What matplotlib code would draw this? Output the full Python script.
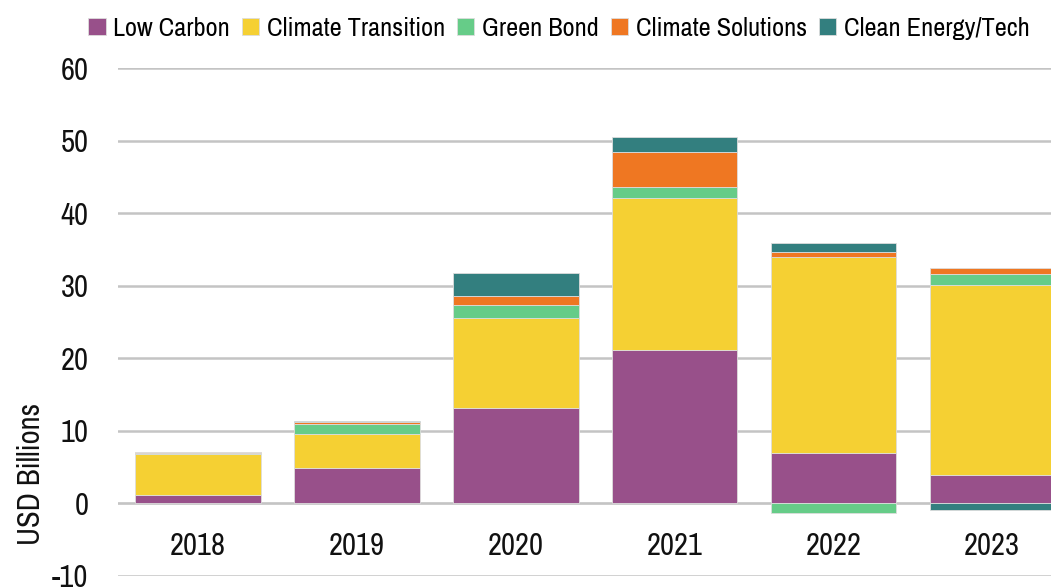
import numpy as np
import matplotlib
matplotlib.use("Agg")
import matplotlib.pyplot as plt
from matplotlib import font_manager

# 数据（单位：十亿美元）
years = ["2018", "2019", "2020", "2021", "2022", "2023"]
series_names = ["Low Carbon", "Climate Transition", "Green Bond",
                "Climate Solutions", "Clean Energy/Tech"]
low_carbon = [1.1, 4.8, 13.2, 21.1, 6.9, 3.9]
climate_transition = [5.65, 4.8, 12.3, 21.0, 27.0, 26.2]
green_bond = [0.25, 1.4, 1.9, 1.5, -1.3, 1.5]
climate_solutions = [0.05, 0.15, 1.2, 4.8, 0.8, 0.9]
clean_energy = [0.05, 0.15, 3.1, 2.1, 1.2, -0.9]
colors = ["#98508A", "#F5D033", "#66CC88", "#EF7722", "#337F7F"]

# 找一个窄体字体，没有就用 Liberation Sans
names = sorted({f.name for f in font_manager.fontManager.ttflist})
narrow = [n for n in names if "Narrow" in n or "Condensed" in n]
family = narrow[0] if narrow else "Liberation Sans"
plt.rcParams["font.family"] = [family, "DejaVu Sans"]
plt.rcParams["axes.unicode_minus"] = False

fig = plt.figure(figsize=(10.51, 5.87), dpi=100)
ax = fig.add_axes([0.112, 0.019, 0.888, 0.865])

x = np.arange(len(years))
pos_bottom = np.zeros(len(years))
neg_bottom = np.zeros(len(years))
all_series = [low_carbon, climate_transition, green_bond, climate_solutions, clean_energy]
for name, vals, c in zip(series_names, all_series, colors):
    vals = np.array(vals, dtype=float)
    bottom = np.where(vals >= 0, pos_bottom, neg_bottom)
    ax.bar(x, vals, width=0.79, bottom=bottom, color=c, label=name,
           edgecolor="#dddddd", linewidth=0.6, zorder=3)
    pos_bottom += np.where(vals >= 0, vals, 0)
    neg_bottom += np.where(vals < 0, vals, 0)

ax.set_xlim(-0.507, 5.37)
ax.set_ylim(-10, 60)
ax.set_yticks(range(-10, 61, 10))
ax.yaxis.grid(True, color="#c4c4c4", linewidth=1.8, zorder=0)
ax.axhline(0, color="#e2e2e2", linewidth=1.8, zorder=1)
for s in ax.spines.values():
    s.set_visible(False)
ax.tick_params(axis="y", length=0, pad=21, labelsize=22, labelcolor="#111111")

ax.set_xticks(x)
ax.set_xticklabels([])
ax.tick_params(axis="x", length=0)
for xi, yr in zip(x, years):
    ax.text(xi, -5.9, yr, ha="center", va="center", fontsize=22, color="#111111")

ax.set_ylabel("USD Billions", fontsize=22, color="#111111")
ax.yaxis.set_label_coords(-0.078, 0.2)

fig.legend(loc="upper center", bbox_to_anchor=(0.532, 1.012), ncol=5, frameon=False,
           fontsize=19, handlelength=0.65, handleheight=0.65, handletextpad=0.3,
           columnspacing=0.45)

fig.savefig("out.png", dpi=100)
